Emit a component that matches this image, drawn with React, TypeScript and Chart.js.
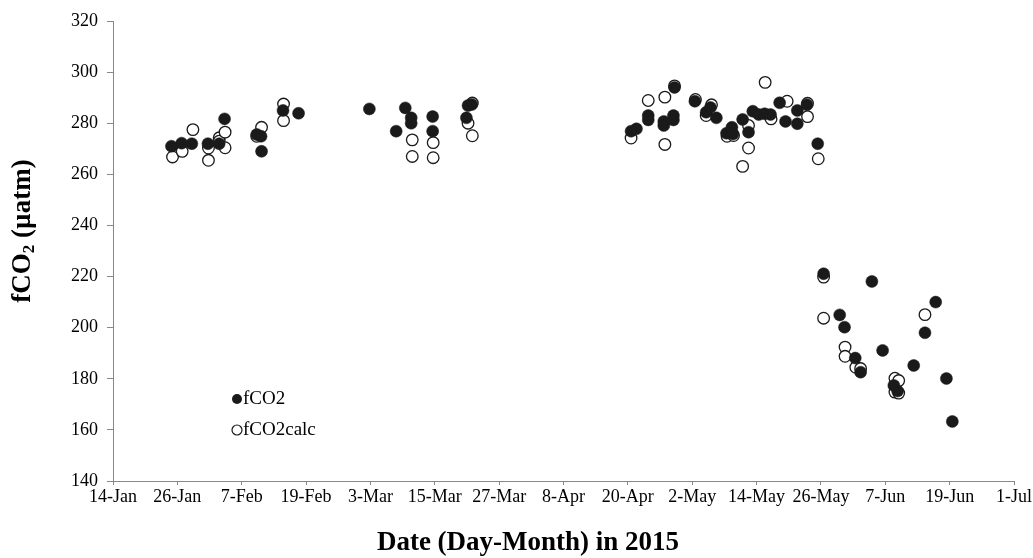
import React, { useEffect, useRef } from "react";
import { Chart, registerables } from "chart.js";

Chart.register(...registerables);

// x values: day offset from 14-Jan-2015
const tickDays = [0, 12, 24, 36, 48, 60, 72, 84, 96, 108, 120, 132, 144, 156, 168];
const tickLabels = [
  "14-Jan", "26-Jan", "7-Feb", "19-Feb", "3-Mar", "15-Mar", "27-Mar", "8-Apr",
  "20-Apr", "2-May", "14-May", "26-May", "7-Jun", "19-Jun", "1-Jul",
];

const fco2Days = [
  10.9, 12.8, 14.7, 17.7, 19.8, 20.8, 26.8, 27.6, 27.7, 31.7, 34.6,
  47.8, 52.8, 54.5, 55.6, 55.6, 59.6, 59.6, 66.2, 66.9, 65.9,
  96.6, 97.6, 99.8, 99.8, 102.7, 102.7, 104.5, 104.5, 104.7, 108.5, 110.6, 111.4, 112.5,
  114.4, 115.4, 115.6, 117.4, 118.5, 119.3, 120.4, 121.5, 122.6, 124.3, 125.4, 127.6, 127.6,
  129.4, 131.4, 132.5, 135.5, 136.4, 138.4, 139.4, 141.5, 143.5, 145.6, 146.3, 149.3,
  151.4, 153.4, 155.4, 156.5,
];
const fco2Values = [
  271, 272.2, 272, 272, 272, 281.7, 275.6, 274.9, 269, 285, 283.9,
  285.6, 276.9, 286, 282.1, 280, 282.6, 276.9, 286.9, 287.3, 282.1,
  276.9, 277.8, 283, 281.3, 280.7, 279.1, 283, 281.3, 294, 288.6, 284.3, 286.2, 282.1,
  276.1, 278.4, 275.8, 281.5, 276.5, 284.7, 283.4, 283.7, 283.4, 288, 280.7, 285, 279.8,
  287.2, 272, 221.1, 205, 200.2, 188.1, 182.6, 218.1, 191.1, 177.4, 175.2, 185.2,
  198, 210, 180.1, 163.3,
];

const calcDays = [
  11.1, 12.9, 14.9, 17.8, 17.8, 19.8, 19.8, 20.9, 20.9, 26.8, 27.7, 31.8, 31.8,
  55.8, 55.8, 59.7, 59.7, 66.2, 67, 67,
  96.6, 99.8, 102.9, 102.9, 104.7, 108.6, 110.6, 111.6, 114.5, 115.7, 117.4, 118.5, 118.5,
  121.6, 122.7, 125.7, 129.5, 129.5, 131.5, 132.5, 132.5, 136.5, 136.5, 138.5, 139.4,
  145.8, 146.5, 145.8, 146.5, 151.4,
];
const calcValues = [
  266.8, 269, 277.5, 270.3, 265.5, 274.3, 273, 276.5, 270.4, 274.9, 278.4, 287.5, 281,
  273.5, 267, 272.4, 266.5, 280, 275.1, 287.9,
  274.2, 288.9, 290.2, 271.7, 294.6, 289.3, 283, 287.2, 274.9, 275.2, 263.1, 279.1, 270.3,
  296, 281.7, 288.6, 287.8, 282.6, 266.1, 219.8, 203.7, 192.4, 188.8, 184.5, 184,
  180.2, 179.3, 174.8, 174.4, 205.1,
];

const FONT = '"Liberation Serif", "Times New Roman", serif';

const titlesPlugin = {
  id: "titlesLegend",
  afterDraw(chart: any) {
    const ctx = chart.ctx as CanvasRenderingContext2D;
    ctx.save();
    ctx.fillStyle = "#000";
    // y title with subscript
    ctx.translate(23, 231);
    ctx.rotate(-Math.PI / 2);
    const big = `bold 27px ${FONT}`;
    const small = `bold 17px ${FONT}`;
    ctx.font = big;
    const w1 = ctx.measureText("fCO").width;
    const w3 = ctx.measureText(" (µatm)").width;
    ctx.font = small;
    const w2 = ctx.measureText("2").width;
    const total = w1 + w2 + w3;
    let x = -total / 2;
    ctx.textBaseline = "middle";
    ctx.textAlign = "left";
    ctx.font = big;
    ctx.fillText("fCO", x, 0);
    x += w1;
    ctx.font = small;
    ctx.fillText("2", x, 7);
    x += w2;
    ctx.font = big;
    ctx.fillText(" (µatm)", x, 0);
    ctx.restore();

    // x title
    ctx.save();
    ctx.fillStyle = "#000";
    ctx.font = `bold 27px ${FONT}`;
    ctx.textAlign = "center";
    ctx.textBaseline = "middle";
    ctx.fillText("Date (Day-Month) in 2015", 528, 543);
    ctx.restore();

    // legend
    ctx.save();
    ctx.font = `19px ${FONT}`;
    ctx.textBaseline = "middle";
    ctx.textAlign = "left";
    ctx.fillStyle = "#1a1a1a";
    ctx.beginPath();
    ctx.arc(237, 399, 5, 0, Math.PI * 2);
    ctx.fill();
    ctx.fillStyle = "#000";
    ctx.fillText("fCO2", 243, 399);
    ctx.strokeStyle = "#1a1a1a";
    ctx.lineWidth = 1.2;
    ctx.beginPath();
    ctx.arc(237, 430, 5, 0, Math.PI * 2);
    ctx.stroke();
    ctx.fillText("fCO2calc", 243, 430);
    ctx.restore();
  },
};

export default function App() {
  const ref = useRef<HTMLCanvasElement | null>(null);
  useEffect(() => {
    if (!ref.current) return;
    const chart = new Chart(ref.current, {
      type: "scatter",
      data: {
        datasets: [
          {
            label: "fCO2",
            data: fco2Days.map((d, i) => ({ x: d, y: fco2Values[i] })),
            pointRadius: 6,
            pointBackgroundColor: "#1a1a1a",
            pointBorderColor: "#1a1a1a",
            pointBorderWidth: 0.5,
          },
          {
            label: "fCO2calc",
            data: calcDays.map((d, i) => ({ x: d, y: calcValues[i] })),
            pointRadius: 5.8,
            pointBackgroundColor: "#ffffff",
            pointBorderColor: "#1a1a1a",
            pointBorderWidth: 1.3,
          },
        ],
      },
      options: {
        responsive: false,
        animation: false,
        layout: { padding: { top: 21, right: 19, left: 0, bottom: 0 } },
        plugins: {
          legend: { display: false },
          tooltip: { enabled: false },
        },
        scales: {
          x: {
            type: "linear",
            min: 0,
            max: 168,
            afterBuildTicks: (scale: any) => {
              scale.ticks = tickDays.map((v) => ({ value: v }));
            },
            afterFit: (scale: any) => {
              scale.height = 77;
            },
            ticks: {
              autoSkip: false,
              maxRotation: 0,
              padding: 1,
              color: "#000",
              font: { family: FONT, size: 18 },
              callback: (v: any) => {
                const i = tickDays.indexOf(Number(v));
                return i >= 0 ? tickLabels[i] : "";
              },
            },
            grid: {
              display: true,
              drawOnChartArea: false,
              drawTicks: true,
              tickLength: 4,
              color: "#888",
            },
            border: { display: true, color: "#888", width: 1 },
          },
          y: {
            min: 140,
            max: 320,
            afterFit: (scale: any) => {
              scale.width = 113;
            },
            ticks: {
              stepSize: 20,
              padding: 9,
              color: "#000",
              font: { family: FONT, size: 18 },
            },
            grid: {
              display: true,
              drawOnChartArea: false,
              drawTicks: true,
              tickLength: 6,
              color: "#888",
            },
            border: { display: true, color: "#888", width: 1 },
          },
        },
      },
      plugins: [titlesPlugin],
    });
    return () => chart.destroy();
  }, []);
  return (
    <div style={{ position: "absolute", left: 0, top: 0, width: 1033, height: 558, background: "#fff" }}>
      <canvas ref={ref} width={1033} height={558} />
    </div>
  );
}
